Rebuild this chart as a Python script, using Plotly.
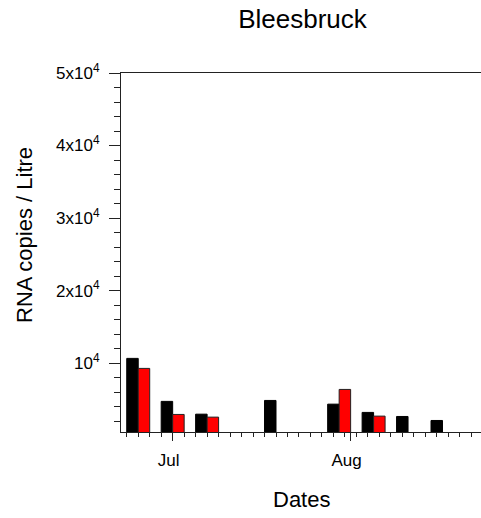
import plotly.graph_objects as go

# sampling dates and RNA concentrations (copies / litre)
dates = ["2020-06-25", "2020-07-01", "2020-07-07", "2020-07-19",
         "2020-07-30", "2020-08-05", "2020-08-11", "2020-08-17"]
black_vals = [10650, 4720, 2960, 4850, 4340, 3200, 2640, 2090]
red_vals = [9270, 2920, 2550, None, 6370, 2690, None, None]

y_tickvals = [10000, 20000, 30000, 40000, 50000]
y_ticktext = ["10<sup>4</sup>", "2x10<sup>4</sup>", "3x10<sup>4</sup>",
              "4x10<sup>4</sup>", "5x10<sup>4</sup>"]

font_family = "Arial, Liberation Sans, sans-serif"

W, H = 481, 518
left, top, bottom = 121, 73, 432
pw, ph = W - left, bottom - top

fig = go.Figure()
fig.add_trace(go.Bar(x=dates, y=black_vals, name="black",
                     marker=dict(color="black", line=dict(color="black", width=1))))
fig.add_trace(go.Bar(x=dates, y=red_vals, name="red",
                     marker=dict(color="#ff0000", line=dict(color="#222222", width=1))))

fig.update_layout(
    width=W, height=H,
    margin=dict(l=left, r=0, t=top, b=H - bottom),
    paper_bgcolor="white", plot_bgcolor="white",
    barmode="group", bargap=0.333, bargroupgap=0,
    showlegend=False,
    font=dict(family=font_family, color="black"),
    title=dict(text="Bleesbruck", x=302.5 / W, y=1 - 19 / H,
               xanchor="center", yanchor="middle",
               xref="container", yref="container",
               font=dict(size=26, family=font_family, color="black")),
)

fig.update_xaxes(
    type="date",
    range=["2020-06-22", "2020-08-23 17:00"],
    showgrid=False, zeroline=False,
    showline=True, linecolor="#222222", linewidth=1, mirror=True,
    ticks="outside", ticklen=8, tickcolor="#222222",
    tick0="2020-07-01", dtick="M1", tickformat="%b",
    tickfont=dict(size=17),
    ticklabelstandoff=5, ticklabelshift=-4,
    minor=dict(ticks="outside", ticklen=4, tickcolor="#222222",
               tick0="2020-06-23", dtick=2 * 86400000, showgrid=False),
)

fig.update_yaxes(
    range=[500, 50000],
    showgrid=False, zeroline=False,
    showline=True, linecolor="#222222", linewidth=1,
    ticks="outside", ticklen=11, tickcolor="#222222",
    tickvals=y_tickvals, ticktext=y_ticktext,
    tickfont=dict(size=17),
    ticklabelstandoff=6,
    minor=dict(ticks="outside", ticklen=6, tickcolor="#222222",
               tick0=0, dtick=2000, showgrid=False),
)

fig.add_annotation(text="RNA copies / Litre", textangle=-90,
                   xref="paper", yref="paper",
                   x=(25 - left) / pw, y=(bottom - 235) / ph,
                   xanchor="center", yanchor="middle", showarrow=False,
                   font=dict(size=22, family=font_family, color="black"))
fig.add_annotation(text="Dates",
                   xref="paper", yref="paper",
                   x=(301 - left) / pw, y=(bottom - 499) / ph,
                   xanchor="center", yanchor="middle", showarrow=False,
                   font=dict(size=22, family=font_family, color="black"))

# drop the default page margin so the figure sits in the window corner
fig.write_html("out.html",
               config={"displayModeBar": False},
               post_script="document.body.style.margin='0';"
                           "document.body.style.overflow='hidden';")
